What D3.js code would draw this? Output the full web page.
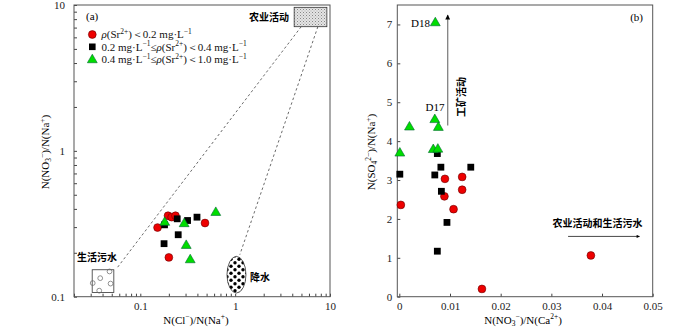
<!DOCTYPE html>
<html>
<head>
<meta charset="utf-8">
<script src="https://cdn.jsdelivr.net/npm/d3@7"></script>
<style>
  body { margin: 0; background: #fff; }
  svg { display: block; }
  .tick text { font-family: "Liberation Serif", serif; font-size: 11px; fill: #222; }
  .tick line { stroke: #444; }
  .domain { display: none; }
</style>
</head>
<body>
<svg id="chart" width="700" height="329"></svg>
<script>
const width = 700;
const height = 329;
const serif = '"Liberation Serif", "Times New Roman", serif';
const cjk = '"Noto Sans CJK SC", sans-serif';

// panel (a): N(Cl-)/N(Na+) vs N(NO3-)/N(Na+), log-log
const aRedX = [0.152, 0.196, 0.214, 0.235, 0.481, 0.200];
const aRedY = [0.298, 0.359, 0.351, 0.359, 0.320, 0.186];
const aBlackX = [0.245, 0.315, 0.396, 0.180, 0.251, 0.178];
const aBlackY = [0.342, 0.333, 0.351, 0.311, 0.266, 0.231];
const aGreenX = [0.181, 0.290, 0.625, 0.305, 0.336];
const aGreenY = [0.327, 0.320, 0.382, 0.227, 0.181];

// panel (b): N(NO3-)/N(Ca2+) vs N(SO4 2-)/N(Na+)
const bRedX = [0.0003, 0.0090, 0.0089, 0.0107, 0.0124, 0.0124, 0.0163, 0.0378];
const bRedY = [2.36, 3.03, 2.58, 2.25, 3.08, 2.75, 0.20, 1.06];
const bBlackX = [0.0001, 0.0070, 0.0082, 0.0083, 0.0094, 0.0075, 0.0141, 0.0075];
const bBlackY = [3.15, 3.13, 3.33, 2.71, 1.91, 1.17, 3.33, 3.68];
const bGreenX = [0.0071, 0.0070, 0.0077, 0.0020, 0.0001, 0.0067, 0.0076];
const bGreenY = [7.06, 4.57, 4.37, 4.38, 3.71, 3.80, 3.81];

const aTicks = [0.1, 1, 10];
const bXTicks = [0, 0.01, 0.02, 0.03, 0.04, 0.05];
const bYTicks = [0, 1, 2, 3, 4, 5, 6, 7];

const legendLabels = [
  '*{ρ}(Sr^{2+})＜0.2 mg·L^{−1}',
  '0.2 mg·L^{−1}≤*{ρ}(Sr^{2+})＜0.4 mg·L^{−1}',
  '0.4 mg·L^{−1}≤*{ρ}(Sr^{2+})＜1.0 mg·L^{−1}'
];

// annotation regions in panel (a), data units
const agriBox = {x0: 4.19, x1: 9.27, y0: 7.1, y1: 9.64};
const sewageBox = {x0: 0.0311, x1: 0.0526, y0: 0.107, y1: 0.153};
const sewageDotsX = [0.0378, 0.0474, 0.0486, 0.0369, 0.0315];
const sewageDotsY = [0.134, 0.149, 0.123, 0.110, 0.124];
const rainEllipse = {x0: 0.82, x1: 1.30, y0: 0.106, y1: 0.189};
const dashLines = [
  [[4.97, 7.1], [0.0567, 0.157]],
  [[7.45, 7.1], [1.12, 0.194]]
];

const svg = d3.select('#chart');
const defs = svg.append('defs');

// stipple for the agriculture box
const pStip = defs.append('pattern').attr('id', 'stip')
  .attr('width', 3).attr('height', 3).attr('patternUnits', 'userSpaceOnUse');
pStip.append('rect').attr('width', 3).attr('height', 3).attr('fill', '#e4e4e4');
pStip.append('rect').attr('x', 0).attr('y', 0).attr('width', 1).attr('height', 1).attr('fill', '#888');
pStip.append('rect').attr('x', 1.5).attr('y', 1.5).attr('width', 1).attr('height', 1).attr('fill', '#aaa');

// black dots for precipitation
const pDots = defs.append('pattern').attr('id', 'rain')
  .attr('width', 8).attr('height', 7).attr('patternUnits', 'userSpaceOnUse')
  .attr('x', 1).attr('y', 2);
pDots.append('rect').attr('width', 8).attr('height', 7).attr('fill', '#fff');
pDots.append('circle').attr('cx', 2).attr('cy', 1.8).attr('r', 1.7).attr('fill', '#000');
pDots.append('circle').attr('cx', 6).attr('cy', 5.3).attr('r', 1.7).attr('fill', '#000');

defs.append('marker').attr('id', 'arrow')
  .attr('viewBox', '0 0 10 10').attr('refX', 9).attr('refY', 5)
  .attr('markerWidth', 7).attr('markerHeight', 3.2).attr('markerUnits', 'userSpaceOnUse')
  .attr('orient', 'auto')
  .append('path').attr('d', 'M0,0 L10,5 L0,10 Z').attr('fill', '#000');
defs.append('marker').attr('id', 'arrowUp')
  .attr('viewBox', '0 0 10 10').attr('refX', 9).attr('refY', 5)
  .attr('markerWidth', 17).attr('markerHeight', 5).attr('markerUnits', 'userSpaceOnUse')
  .attr('orient', 'auto')
  .append('path').attr('d', 'M0,0 L10,5 L0,10 Z').attr('fill', '#000');

// text with ^{sup}, _{sub}, *{italic}
function rich(sel, str, fs) {
  const parts = str.split(/(\^\{[^}]*\}|_\{[^}]*\}|\*\{[^}]*\})/).filter(s => s.length);
  let shift = 0;
  parts.forEach(p => {
    const t = sel.append('tspan');
    let target = 0;
    let txt = p;
    if (p.startsWith('^{')) { target = -0.38 * fs; txt = p.slice(2, -1); t.attr('font-size', fs * 0.68); }
    else if (p.startsWith('_{')) { target = 0.22 * fs; txt = p.slice(2, -1); t.attr('font-size', fs * 0.68); }
    else if (p.startsWith('*{')) { txt = p.slice(2, -1); t.attr('font-style', 'italic'); }
    t.attr('dy', target - shift).text(txt);
    shift = target;
  });
}

function drawMarkers(g, xs, ys, x, y, kind) {
  const pts = xs.map((d, i) => [x(d), y(ys[i])]);
  if (kind === 'circle') {
    g.selectAll(null).data(pts).join('circle')
      .attr('cx', d => d[0]).attr('cy', d => d[1]).attr('r', 3.9)
      .attr('fill', '#ee0000').attr('stroke', '#600').attr('stroke-width', 0.6);
  } else if (kind === 'square') {
    g.selectAll(null).data(pts).join('rect')
      .attr('x', d => d[0] - 3.4).attr('y', d => d[1] - 3.4)
      .attr('width', 6.8).attr('height', 6.8).attr('fill', '#000');
  } else {
    const tri = d3.symbol().type(d3.symbolTriangle).size(42);
    g.selectAll(null).data(pts).join('path')
      .attr('transform', d => `translate(${d[0]},${d[1] + 0.8})`)
      .attr('d', tri).attr('fill', '#00dd00').attr('stroke', '#063').attr('stroke-width', 0.6);
  }
}

function frame(x0, x1, y0, y1) {
  svg.append('rect').attr('x', x0).attr('y', y1).attr('width', x1 - x0).attr('height', y0 - y1)
    .attr('fill', 'none').attr('stroke', '#555').attr('stroke-width', 1);
}

// ---------- panel (a)
const xA = d3.scaleLog().domain([0.02, 10]).range([74, 330]);
const yA = d3.scaleLog().domain([0.1, 10]).range([296.7, 5]);

const aMinor = [];
for (let dec of [0.01, 0.1, 1]) for (let k = 1; k <= 9; k++) aMinor.push(+(dec * k).toPrecision(3));
const xMinorA = aMinor.filter(v => v >= 0.02 && v <= 10).concat([10]);
const yMinorA = aMinor.filter(v => v >= 0.1 && v <= 10).concat([10]);

svg.append('g').attr('transform', 'translate(0,296.7)')
  .call(d3.axisBottom(xA).tickValues(xMinorA).tickSizeInner(-3).tickSizeOuter(0).tickPadding(6)
    .tickFormat(d => aTicks.includes(d) ? d3.format('~g')(d) : ''));
svg.append('g').attr('transform', 'translate(74,0)')
  .call(d3.axisLeft(yA).tickValues(yMinorA).tickSizeInner(-3).tickSizeOuter(0).tickPadding(9)
    .tickFormat(d => aTicks.includes(d) ? d3.format('~g')(d) : ''));
frame(74, 330, 296.7, 5);

// dashed envelope lines
svg.append('g').selectAll('line').data(dashLines).join('line')
  .attr('x1', d => xA(d[0][0])).attr('y1', d => yA(d[0][1]))
  .attr('x2', d => xA(d[1][0])).attr('y2', d => yA(d[1][1]))
  .attr('stroke', '#444').attr('stroke-width', 0.8).attr('stroke-dasharray', '2.5,2.5');

svg.append('rect')
  .attr('x', xA(agriBox.x0)).attr('y', yA(agriBox.y1))
  .attr('width', xA(agriBox.x1) - xA(agriBox.x0)).attr('height', yA(agriBox.y0) - yA(agriBox.y1))
  .attr('fill', 'url(#stip)').attr('stroke', '#333').attr('stroke-width', 0.8);

svg.append('rect')
  .attr('x', xA(sewageBox.x0)).attr('y', yA(sewageBox.y1))
  .attr('width', xA(sewageBox.x1) - xA(sewageBox.x0)).attr('height', yA(sewageBox.y0) - yA(sewageBox.y1))
  .attr('fill', '#fff').attr('stroke', '#333').attr('stroke-width', 0.8);
svg.append('g').selectAll('circle').data(sewageDotsX).join('circle')
  .attr('cx', d => xA(d)).attr('cy', (d, i) => yA(sewageDotsY[i])).attr('r', 2.4)
  .attr('fill', 'none').attr('stroke', '#666').attr('stroke-width', 0.7);

svg.append('ellipse')
  .attr('cx', (xA(rainEllipse.x0) + xA(rainEllipse.x1)) / 2)
  .attr('cy', (yA(rainEllipse.y0) + yA(rainEllipse.y1)) / 2)
  .attr('rx', (xA(rainEllipse.x1) - xA(rainEllipse.x0)) / 2)
  .attr('ry', (yA(rainEllipse.y0) - yA(rainEllipse.y1)) / 2)
  .attr('fill', 'url(#rain)').attr('stroke', '#333').attr('stroke-width', 0.8);

const gA = svg.append('g');
drawMarkers(gA, aRedX, aRedY, xA, yA, 'circle');
drawMarkers(gA, aBlackX, aBlackY, xA, yA, 'square');
drawMarkers(gA, aGreenX, aGreenY, xA, yA, 'triangle');

svg.append('text').attr('x', 86).attr('y', 20).attr('font-family', serif).attr('font-size', 11).text('(a)');
svg.append('text').attr('x', 289).attr('y', 21).attr('text-anchor', 'end')
  .attr('font-family', cjk).attr('font-size', 10).attr('font-weight', 'bold').text('农业活动');
svg.append('text').attr('x', 97).attr('y', 261).attr('text-anchor', 'middle')
  .attr('font-family', cjk).attr('font-size', 10).attr('font-weight', 'bold').text('生活污水');
svg.append('text').attr('x', 250).attr('y', 281)
  .attr('font-family', cjk).attr('font-size', 10).attr('font-weight', 'bold').text('降水');

// legend
const leg = svg.append('g');
const legKinds = ['circle', 'square', 'triangle'];
legendLabels.forEach((lab, i) => {
  const y = 34.5 + i * 12.3;
  const g = leg.append('g');
  if (legKinds[i] === 'circle') g.append('circle').attr('cx', 92.3).attr('cy', y).attr('r', 3.9)
    .attr('fill', '#ee0000').attr('stroke', '#600').attr('stroke-width', 0.6);
  if (legKinds[i] === 'square') g.append('rect').attr('x', 89).attr('y', y - 3.3).attr('width', 6.6).attr('height', 6.6).attr('fill', '#000');
  if (legKinds[i] === 'triangle') g.append('path').attr('transform', `translate(92.3,${y + 0.8})`)
    .attr('d', d3.symbol().type(d3.symbolTriangle).size(42)).attr('fill', '#00dd00').attr('stroke', '#063').attr('stroke-width', 0.6);
  const t = g.append('text').attr('x', 101.5).attr('y', y + 3.8).attr('font-family', serif).attr('font-size', 11).attr('fill', '#111');
  rich(t, lab, 11);
});

const yLabA = svg.append('text').attr('transform', 'translate(49,152) rotate(-90)')
  .attr('text-anchor', 'middle').attr('font-family', serif).attr('font-size', 11);
rich(yLabA, 'N(NO_{3}^{−})/N(Na^{+})', 11);
const xLabA = svg.append('text').attr('x', 196).attr('y', 323.5)
  .attr('text-anchor', 'middle').attr('font-family', serif).attr('font-size', 11);
rich(xLabA, 'N(Cl^{−})/N(Na^{+})', 11);

// ---------- panel (b)
const xB = d3.scaleLinear().domain([-0.0004, 0.05]).range([397.3, 652.7]);
const yB = d3.scaleLinear().domain([0, 7.5]).range([296.7, 5]);

svg.append('g').attr('transform', 'translate(0,296.7)')
  .call(d3.axisBottom(xB).tickValues(bXTicks).tickSizeInner(-3).tickSizeOuter(0).tickPadding(6)
    .tickFormat(d3.format('~g')));
svg.append('g').attr('transform', 'translate(397.3,0)')
  .call(d3.axisLeft(yB).tickValues(bYTicks).tickSizeInner(-3).tickSizeOuter(0).tickPadding(5)
    .tickFormat(d3.format('d')));
frame(397.3, 652.7, 296.7, 5);

// arrows
svg.append('line')
  .attr('x1', xB(0.00955)).attr('y1', yB(4.4)).attr('x2', xB(0.00955)).attr('y2', yB(7.24))
  .attr('stroke', '#777').attr('stroke-width', 1.2).attr('marker-end', 'url(#arrowUp)');
svg.append('line')
  .attr('x1', xB(0.0333)).attr('y1', yB(1.55)).attr('x2', xB(0.0474)).attr('y2', yB(1.55))
  .attr('stroke', '#333').attr('stroke-width', 0.9).attr('marker-end', 'url(#arrow)');

const gB = svg.append('g');
drawMarkers(gB, bRedX, bRedY, xB, yB, 'circle');
drawMarkers(gB, bBlackX, bBlackY, xB, yB, 'square');
drawMarkers(gB, bGreenX, bGreenY, xB, yB, 'triangle');

svg.append('text').attr('x', 430).attr('y', 27).attr('text-anchor', 'end')
  .attr('font-family', serif).attr('font-size', 11).text('D18');
svg.append('text').attr('x', 435).attr('y', 111).attr('text-anchor', 'middle')
  .attr('font-family', serif).attr('font-size', 11).text('D17');
svg.append('text').attr('x', 643).attr('y', 21).attr('text-anchor', 'end')
  .attr('font-family', serif).attr('font-size', 11).text('(b)');
svg.append('text').attr('transform', 'translate(465,97) rotate(-90)').attr('text-anchor', 'middle')
  .attr('font-family', cjk).attr('font-size', 10).attr('font-weight', 'bold').text('工矿活动');
svg.append('text').attr('x', 597.5).attr('y', 227).attr('text-anchor', 'middle')
  .attr('font-family', cjk).attr('font-size', 10).attr('font-weight', 'bold').text('农业活动和生活污水');

const yLabB = svg.append('text').attr('transform', 'translate(375,152) rotate(-90)')
  .attr('text-anchor', 'middle').attr('font-family', serif).attr('font-size', 11);
rich(yLabB, 'N(SO_{4}^{2−})/N(Na^{+})', 11);
const xLabB = svg.append('text').attr('x', 523).attr('y', 323.5)
  .attr('text-anchor', 'middle').attr('font-family', serif).attr('font-size', 11);
rich(xLabB, 'N(NO_{3}^{−})/N(Ca^{2+})', 11);
</script>
</body>
</html>
